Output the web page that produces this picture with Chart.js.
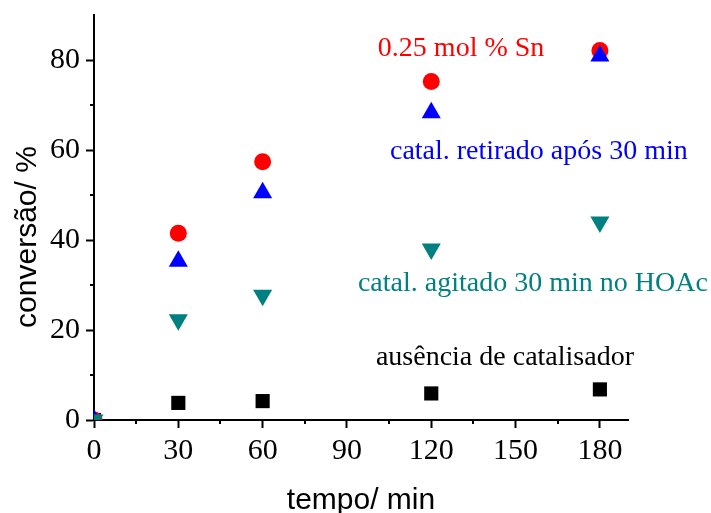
<!DOCTYPE html>
<html>
<head>
<meta charset="utf-8">
<script src="https://cdn.jsdelivr.net/npm/chart.js@4/dist/chart.umd.min.js"></script>
<style>
  html, body { margin: 0; padding: 0; background: #fff; }
  #wrap { width: 711px; height: 513px; }
</style>
</head>
<body>
<div id="wrap"><canvas id="c" width="711" height="513"></canvas></div>
<script>
// Reaction time (min)
const tempo = [0, 30, 60, 120, 180];

// Conversion (%) for each experiment
const snCatalisador = [0, 41.5, 57.4, 75.2, 82.1];
const catalRetirado = [0, 35.3, 50.5, 68.3, 80.9];
const catalAgitado = [0, 22.3, 27.7, 38.0, 44.0];
const semCatalisador = [0, 3.8, 4.2, 5.9, 6.8];

// Axis tick values
const xMajorTicks = [0, 30, 60, 90, 120, 150, 180];
const xMinorTicks = [15, 45, 75, 105, 135, 165];
const yMajorTicks = [0, 20, 40, 60, 80];
const yMinorTicks = [10, 30, 50, 70];

// Series captions placed inside the plot (x in min, y in %)
const captionText = ['0.25 mol % Sn', 'catal. retirado após 30 min', 'catal. agitado 30 min no HOAc', 'ausência de catalisador'];
const captionX = [101.0, 105.3, 93.9, 100.3];
const captionY = [80.8, 58.0, 28.7, 12.2];
const captionColor = ['#ff0000', '#0000ff', '#008080', '#000000'];

const toPoints = (ys) => tempo.map((t, i) => ({ x: t, y: ys[i] }));

const serif = '"Liberation Serif", "Times New Roman", serif';
const sans = '"Liberation Sans", Arial, sans-serif';

const minorTicksPlugin = {
  id: 'minorTicks',
  afterDraw(chart) {
    const { ctx, chartArea } = chart;
    const xs = chart.scales.x, ys = chart.scales.y;
    ctx.save();
    ctx.strokeStyle = '#000';
    ctx.lineWidth = 2;
    ctx.beginPath();
    xMinorTicks.forEach(v => {
      const px = Math.round(xs.getPixelForValue(v));
      ctx.moveTo(px, chartArea.bottom);
      ctx.lineTo(px, chartArea.bottom + 4);
    });
    yMinorTicks.forEach(v => {
      const py = Math.round(ys.getPixelForValue(v));
      ctx.moveTo(chartArea.left, py);
      ctx.lineTo(chartArea.left - 4, py);
    });
    ctx.stroke();
    ctx.restore();
  }
};

const captionsPlugin = {
  id: 'captions',
  afterDraw(chart) {
    const { ctx } = chart;
    const xs = chart.scales.x, ys = chart.scales.y;
    ctx.save();
    ctx.font = '28px ' + serif;
    ctx.textAlign = 'left';
    ctx.textBaseline = 'alphabetic';
    captionText.forEach((t, i) => {
      ctx.fillStyle = captionColor[i];
      ctx.fillText(t, xs.getPixelForValue(captionX[i]), ys.getPixelForValue(captionY[i]));
    });
    ctx.restore();
  }
};

const axisTitlesPlugin = {
  id: 'axisTitles',
  afterDraw(chart) {
    const { ctx, chartArea } = chart;
    ctx.save();
    ctx.fillStyle = '#000';
    ctx.font = '30px ' + sans;
    ctx.textAlign = 'center';
    ctx.textBaseline = 'alphabetic';
    ctx.fillText('tempo/ min', (chartArea.left + chartArea.right) / 2, 509);
    ctx.translate(36, 237);
    ctx.rotate(-Math.PI / 2);
    ctx.fillText('conversão/ %', 0, 0);
    ctx.restore();
  }
};

// keep the plot frame fixed: no extra room reserved for overhanging tick labels
const noLabelOverhang = (s) => {
  s.paddingTop = 0; s.paddingBottom = 0; s.paddingLeft = 0; s.paddingRight = 0;
};

const pointDefaults = { showLine: false, pointBorderWidth: 0, clip: 0 };

new Chart(document.getElementById('c'), {
  type: 'scatter',
  data: {
    datasets: [
      Object.assign({ label: 'catal. agitado 30 min no HOAc', data: toPoints(catalAgitado),
        backgroundColor: '#008080', borderColor: '#008080', pointStyle: 'triangle', pointRotation: 180, pointRadius: 11 }, pointDefaults),
      Object.assign({ label: 'catal. retirado após 30 min', data: toPoints(catalRetirado),
        backgroundColor: '#0000ff', borderColor: '#0000ff', pointStyle: 'triangle', pointRadius: 11 }, pointDefaults),
      Object.assign({ label: '0.25 mol % Sn', data: toPoints(snCatalisador),
        backgroundColor: '#ff0000', borderColor: '#ff0000', pointStyle: 'circle', pointRadius: 8.5 }, pointDefaults),
      Object.assign({ label: 'ausência de catalisador', data: toPoints(semCatalisador),
        backgroundColor: '#000000', borderColor: '#000000', pointStyle: 'rect', pointRadius: 10 }, pointDefaults)
    ]
  },
  options: {
    responsive: false,
    animation: false,
    devicePixelRatio: 1,
    layout: { padding: { left: 0, right: 83, top: 15, bottom: 0 } },
    plugins: { legend: { display: false }, tooltip: { enabled: false } },
    scales: {
      x: {
        type: 'linear', position: 'bottom', min: 0, max: 190, z: 1,
        afterBuildTicks: (s) => { s.ticks = xMajorTicks.map(v => ({ value: v })); },
        afterFit: (s) => { s.height = 93; noLabelOverhang(s); },
        border: { display: true, color: '#000', width: 2 },
        grid: { drawOnChartArea: false, drawTicks: true, tickLength: 8, color: '#000', tickColor: '#000', tickWidth: 2 },
        ticks: { color: '#000', font: { family: serif, size: 30 }, padding: 5, maxRotation: 0, autoSkip: false }
      },
      y: {
        type: 'linear', position: 'left', min: 0, max: 90, z: 1,
        afterBuildTicks: (s) => { s.ticks = yMajorTicks.map(v => ({ value: v })); },
        afterFit: (s) => { s.width = 94; noLabelOverhang(s); },
        border: { display: true, color: '#000', width: 2 },
        grid: { drawOnChartArea: false, drawTicks: true, tickLength: 8, color: '#000', tickColor: '#000', tickWidth: 2 },
        ticks: { color: '#000', font: { family: serif, size: 30 }, padding: 6, autoSkip: false }
      }
    }
  },
  plugins: [minorTicksPlugin, captionsPlugin, axisTitlesPlugin]
});
</script>
</body>
</html>
